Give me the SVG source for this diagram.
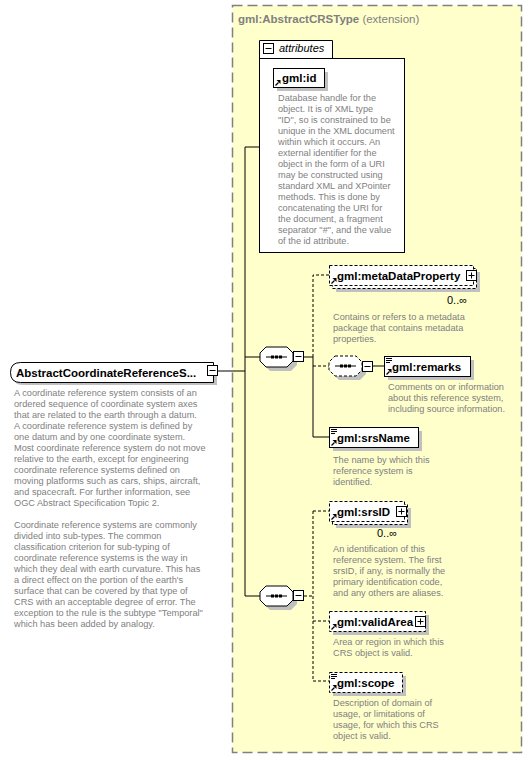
<svg xmlns="http://www.w3.org/2000/svg" width="532" height="759" viewBox="0 0 532 759">
<style>
.lbl{font-family:"Liberation Sans",Arial,sans-serif;font-size:11.5px;font-weight:bold;fill:#000}
.desc{font-family:"Liberation Sans",Arial,sans-serif;font-size:9.2px;fill:#808080;white-space:pre}
.box{fill:#fff;stroke:#000;stroke-width:1}
.dbox{fill:#fff;stroke:#000;stroke-width:1;stroke-dasharray:3 2}
.sh{fill:#c0c0c0}
.ln{fill:none;stroke:#000;stroke-width:1}
.dl{fill:none;stroke:#000;stroke-width:1;stroke-dasharray:3 2}
.mult{font-family:"Liberation Sans",Arial,sans-serif;font-size:11px;fill:#000}
</style>
<defs>
<g id="ref"><path d="M0.5,5.5 L3.5,2.5" stroke="#000" stroke-width="1.2" fill="none"/><path d="M1.5,0 H5.5 V4 Z" fill="#000"/></g>
<g id="simple"><path d="M0,0.5 H6 M0,2.5 H6 M0,4.5 H4" stroke="#000" stroke-width="1"/></g>
<g id="minus"><rect x="0.5" y="0.5" width="10" height="10" fill="#fff" stroke="#000"/><path d="M2.5,5.5 H8.5" stroke="#000"/></g>
<g id="plus"><rect x="0.5" y="0.5" width="10" height="10" fill="#fff" stroke="#000"/><path d="M2.5,5.5 H8.5 M5.5,2.5 V8.5" stroke="#000"/></g>
<path id="oct" d="M6,0 H27 L33,6 V14 L27,20 H6 L0,14 V6 Z"/>
<g id="dots"><path d="M6,10 H27" stroke="#000" stroke-width="1"/><rect x="11" y="8.5" width="3" height="3" fill="#000"/><rect x="15" y="8.5" width="3" height="3" fill="#000"/><rect x="19" y="8.5" width="3" height="3" fill="#000"/></g>
</defs>

<g id="extension">
<rect x="232.5" y="5.5" width="289" height="747" fill="#ffffcc" stroke="#808080" stroke-width="1.5" stroke-dasharray="10 5"/>
<text x="238" y="23" font-family="Liberation Sans,Arial,sans-serif" font-size="11.5" fill="#808080"><tspan font-weight="bold">gml:AbstractCRSType</tspan> (extension)</text>
</g>

<g id="connectors">
<path class="ln" d="M218,371 H245 M245,147 V596 M245,147 H259 M245,357 H260 M245,596 H260"/>
<path class="ln" d="M304,357 H313 V437 H329"/>
<path class="dl" d="M313,357 V275 H329 M313,366 H329"/>
<path class="ln" d="M373,366 H384"/>
<path class="dl" d="M304,596 H313 M313,511 V681 M313,511 H329 M313,621 H329 M313,681 H329"/>
</g>

<g id="root">
<path d="M23,365 H217 V385 H23 Q13,385 13,375 Q13,365 23,365 Z" fill="#c0c0c0"/>
<path d="M20.5,362.5 H213.5 V382.5 H20.5 Q10.5,382.5 10.5,372.5 Q10.5,362.5 20.5,362.5 Z" fill="#fff" stroke="#000"/>
<text class="lbl" x="16" y="376.5">AbstractCoordinateReferenceS...</text>
<use href="#minus" x="207" y="365"/>
<g class="desc">
<text x="14" y="396">A coordinate reference system consists of an</text>
<text x="14" y="407">ordered sequence of coordinate system axes</text>
<text x="14" y="418">that are related to the earth through a datum.</text>
<text x="14" y="429">A coordinate reference system is defined by</text>
<text x="14" y="440">one datum and by one coordinate system.</text>
<text x="14" y="451">Most coordinate reference system do not move</text>
<text x="14" y="462">relative to the earth, except for engineering</text>
<text x="14" y="473">coordinate reference systems defined on</text>
<text x="14" y="484">moving platforms such as cars, ships, aircraft,</text>
<text x="14" y="495">and spacecraft. For further information, see</text>
<text x="14" y="506">OGC Abstract Specification Topic 2.</text>
<text x="14" y="528">Coordinate reference systems are commonly</text>
<text x="14" y="539">divided into sub-types. The common</text>
<text x="14" y="550">classification criterion for sub-typing of</text>
<text x="14" y="561">coordinate reference systems is the way in</text>
<text x="14" y="572">which they deal with earth curvature. This has</text>
<text x="14" y="583">a direct effect on the portion of the earth's</text>
<text x="14" y="594">surface that can be covered by that type of</text>
<text x="14" y="605">CRS with an acceptable degree of error. The</text>
<text x="14" y="616">exception to the rule is the subtype "Temporal"</text>
<text x="14" y="627">which has been added by analogy.</text>
</g>
</g>

<g id="attributes">
<path d="M259.5,58.5 V40.5 H332.5 V58.5" fill="#fff" stroke="#000"/>
<rect x="259.5" y="58.5" width="145" height="194" fill="#fff" stroke="#000"/>
<use href="#minus" x="263" y="43"/>
<text x="279" y="52" font-family="Liberation Sans,Arial,sans-serif" font-size="11" font-style="italic">attributes</text>
</g>

<g id="gml-id">
<rect class="sh" x="277" y="72" width="51" height="19"/>
<rect class="box" x="273.5" y="68.5" width="51" height="19"/>
<text class="lbl" x="282" y="82">gml:id</text>
<use href="#ref" x="275" y="80"/>
<g class="desc">
<text x="278" y="101">Database handle for the</text>
<text x="278" y="112">object.  It is of XML type</text>
<text x="278" y="123">"ID", so is constrained to be</text>
<text x="278" y="134">unique in the XML document</text>
<text x="278" y="145">within which it occurs.  An</text>
<text x="278" y="156">external identifier for the</text>
<text x="278" y="167">object in the form of a URI</text>
<text x="278" y="178">may be constructed using</text>
<text x="278" y="189">standard XML and XPointer</text>
<text x="278" y="200">methods.  This is done by</text>
<text x="278" y="211">concatenating the URI for</text>
<text x="278" y="222">the document, a fragment</text>
<text x="278" y="233">separator "#", and the value</text>
<text x="278" y="244">of the id attribute.</text>
</g>
</g>

<g id="seq1">
<use href="#oct" x="264" y="351" fill="#c0c0c0"/>
<use href="#oct" x="260" y="347" fill="#fff" stroke="#000"/>
<use href="#dots" x="260" y="347"/>
<use href="#minus" x="293" y="351"/>
</g>

<g id="metaDataProperty">
<rect class="sh" x="336" y="272" width="144" height="20"/>
<rect class="dbox" x="332.5" y="268.5" width="144" height="20"/>
<rect class="dbox" x="329.5" y="265.5" width="144" height="20"/>
<text class="lbl" x="337" y="280">gml:metaDataProperty</text>
<use href="#ref" x="331" y="278"/>
<use href="#plus" x="466" y="270"/>
<text class="mult" x="447" y="304">0..∞</text>
<g class="desc">
<text x="333" y="320">Contains or refers to a metadata</text>
<text x="333" y="331">package that contains metadata</text>
<text x="333" y="342">properties.</text>
</g>
</g>

<g id="seq-inner">
<use href="#oct" x="333" y="360" fill="#c0c0c0"/>
<use href="#oct" x="329" y="356" fill="#fff" stroke="#000" stroke-dasharray="3 2"/>
<use href="#dots" x="329" y="356"/>
<use href="#minus" x="362" y="361"/>
</g>

<g id="remarks">
<rect class="sh" x="388" y="360" width="86" height="20"/>
<rect class="box" x="384.5" y="356.5" width="86" height="20"/>
<text class="lbl" x="392" y="371">gml:remarks</text>
<use href="#simple" x="386" y="358"/>
<use href="#ref" x="386" y="369"/>
<g class="desc">
<text x="388" y="390">Comments on or information</text>
<text x="388" y="401">about this reference system,</text>
<text x="388" y="412">including source information.</text>
</g>
</g>

<g id="srsName">
<rect class="sh" x="333" y="431" width="89" height="20"/>
<rect class="box" x="329.5" y="427.5" width="89" height="20"/>
<text class="lbl" x="337" y="442">gml:srsName</text>
<use href="#simple" x="331" y="429"/>
<use href="#ref" x="331" y="440"/>
<g class="desc">
<text x="333" y="463">The name by which this</text>
<text x="333" y="474">reference system is</text>
<text x="333" y="485">identified.</text>
</g>
</g>

<g id="seq2">
<use href="#oct" x="264" y="590" fill="#c0c0c0"/>
<use href="#oct" x="260" y="586" fill="#fff" stroke="#000"/>
<use href="#dots" x="260" y="586"/>
<use href="#minus" x="293" y="590"/>
</g>

<g id="srsID">
<rect class="sh" x="336" y="508" width="75" height="20"/>
<rect class="dbox" x="332.5" y="504.5" width="75" height="20"/>
<rect class="dbox" x="329.5" y="501.5" width="75" height="20"/>
<text class="lbl" x="337" y="516">gml:srsID</text>
<use href="#ref" x="331" y="514"/>
<use href="#plus" x="396" y="506"/>
<text class="mult" x="377" y="537">0..∞</text>
<g class="desc">
<text x="333" y="552">An identification of this</text>
<text x="333" y="563">reference system. The first</text>
<text x="333" y="574">srsID, if any, is normally the</text>
<text x="333" y="585">primary identification code,</text>
<text x="333" y="596">and any others are aliases.</text>
</g>
</g>

<g id="validArea">
<rect class="sh" x="333" y="615" width="96" height="20"/>
<rect class="dbox" x="329.5" y="611.5" width="96" height="20"/>
<text class="lbl" x="337" y="626">gml:validArea</text>
<use href="#ref" x="331" y="624"/>
<use href="#plus" x="415" y="616"/>
<g class="desc">
<text x="333" y="645">Area or region in which this</text>
<text x="333" y="656">CRS object is valid.</text>
</g>
</g>

<g id="scope">
<rect class="sh" x="333" y="676" width="73" height="20"/>
<rect class="dbox" x="329.5" y="672.5" width="73" height="20"/>
<text class="lbl" x="337" y="687">gml:scope</text>
<use href="#simple" x="331" y="674"/>
<use href="#ref" x="331" y="685"/>
<g class="desc">
<text x="333" y="706">Description of domain of</text>
<text x="333" y="717">usage, or limitations of</text>
<text x="333" y="728">usage, for which this CRS</text>
<text x="333" y="739">object is valid.</text>
</g>
</g>
</svg>
